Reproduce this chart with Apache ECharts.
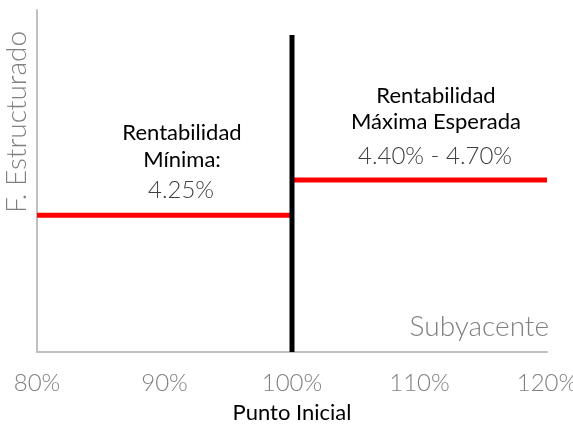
<!DOCTYPE html>
<html>
<head>
<meta charset="utf-8">
<script src="https://cdn.jsdelivr.net/npm/echarts@6/dist/echarts.min.js"></script>
<style>
  html, body { margin: 0; padding: 0; background: #fff; }
  #chart { width: 573px; height: 426px; }
</style>
</head>
<body>
<div id="chart"></div>
<script>
// eje x: punto inicial del subyacente (%)
var xTicks = [80, 90, 100, 110, 120];
// nivel relativo del F. Estructurado (escala 0-10, sin etiquetas)
var minimaLine = [[80, 4.0], [100, 4.0]];
var maximaLine = [[100, 5.03], [120, 5.03]];
var barrierLine = [[100, 0], [100, 9.27]];
var minimaText = ["Rentabilidad", "Mínima:", "4.25%"];
var maximaText = ["Rentabilidad", "Máxima Esperada", "4.40% - 4.70%"];

var chart = echarts.init(document.getElementById("chart"));
var font = "Lato";

var option = {
    animation: false,
    grid: { left: 37, right: 26, top: 10, bottom: 74, outerBoundsMode: "none", containLabel: false },
    xAxis: {
        type: "value",
        min: xTicks[0],
        max: xTicks[xTicks.length - 1],
        interval: 10,
        name: "Punto Inicial",
        nameLocation: "middle",
        nameGap: 50,
        nameTextStyle: { fontFamily: font, fontSize: 22, color: "#000" },
        axisLine: { lineStyle: { color: "#c0c0c0", width: 2 } },
        axisTick: { show: false },
        splitLine: { show: false },
        axisLabel: {
            margin: 19,
            fontFamily: font,
            fontWeight: 300,
            fontSize: 24,
            color: "#808080",
            formatter: function (v) { return v + "%"; }
        }
    },
    yAxis: {
        type: "value",
        min: 0,
        max: 10,
        axisLine: { show: true, lineStyle: { color: "#c0c0c0", width: 2 } },
        axisTick: { show: false },
        axisLabel: { show: false },
        splitLine: { show: false }
    },
    series: [
        {
            type: "line",
            data: minimaLine,
            symbol: "none",
            lineStyle: { color: "#ff0000", width: 5 }
        },
        {
            type: "line",
            data: maximaLine,
            symbol: "none",
            lineStyle: { color: "#ff0000", width: 5 }
        },
        {
            type: "line",
            data: barrierLine,
            symbol: "none",
            z: 3,
            lineStyle: { color: "#000", width: 5 }
        }
    ],
    graphic: [
        {
            type: "text",
            x: 17, y: 122,
            rotation: Math.PI / 2,
            style: {
                text: "F. Estructurado",
                fontFamily: font, fontWeight: 300, fontSize: 28,
                fill: "#808080",
                align: "center", verticalAlign: "middle"
            }
        },
        {
            type: "text",
            x: 549, y: 327,
            style: {
                text: "Subyacente",
                fontFamily: font, fontWeight: 300, fontSize: 28,
                fill: "#808080",
                align: "right", verticalAlign: "middle"
            }
        },
        {
            type: "text", x: 182, y: 133,
            style: { text: minimaText[0], fontFamily: font, fontSize: 22, fill: "#000", align: "center", verticalAlign: "middle" }
        },
        {
            type: "text", x: 182, y: 160,
            style: { text: minimaText[1], fontFamily: font, fontSize: 22, fill: "#000", align: "center", verticalAlign: "middle" }
        },
        {
            type: "text", x: 181, y: 190,
            style: { text: minimaText[2], fontFamily: font, fontWeight: 300, fontSize: 24, fill: "#404040", align: "center", verticalAlign: "middle" }
        },
        {
            type: "text", x: 436, y: 96,
            style: { text: maximaText[0], fontFamily: font, fontSize: 22, fill: "#000", align: "center", verticalAlign: "middle" }
        },
        {
            type: "text", x: 436, y: 122,
            style: { text: maximaText[1], fontFamily: font, fontSize: 22, fill: "#000", align: "center", verticalAlign: "middle" }
        },
        {
            type: "text", x: 435, y: 156,
            style: { text: maximaText[2], fontFamily: font, fontWeight: 300, fontSize: 24, fill: "#404040", align: "center", verticalAlign: "middle" }
        }
    ]
};
chart.setOption(option);
</script>
</body>
</html>
